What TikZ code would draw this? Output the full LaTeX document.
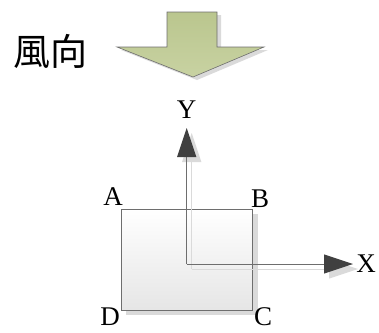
\documentclass[tikz,border=0pt]{standalone}
\usepackage{fontspec}
\setmainfont{Liberation Serif}
\newfontfamily\cjkfont{Noto Sans CJK TC}
\usetikzlibrary{arrows.meta}
\definecolor{windgreen}{HTML}{BAC68E}
\definecolor{windgreenlight}{HTML}{C8D2A2}
\definecolor{edgegray}{HTML}{6E6E6E}
\definecolor{headgray}{HTML}{404040}
\definecolor{shadowgray}{HTML}{DADADA}
\tikzset{
  lbl/.style={font=\fontsize{27}{27}\selectfont, inner sep=0pt, anchor=base},
  axisline/.style={draw=edgegray, line width=1pt, -{Triangle[length=29pt,width=19pt,fill=headgray,color=headgray]}},
  axisshadow/.style={draw=shadowgray, line width=1pt, -{Triangle[length=29pt,width=19pt,fill=shadowgray,color=shadowgray]}},
}
\begin{document}
\begin{tikzpicture}[x=1pt,y=-1pt]
\useasboundingbox (0,0) rectangle (379,332);
% wind label
\node[font=\cjkfont\fontsize{37}{37}\selectfont, inner sep=0pt] (wind) at (50,51) {風向};
% wind arrow shadow
\fill[shadowgray] (171,15) -- (221,15) -- (221,50) -- (268,50) -- (197,80) -- (121,50) -- (171,50) -- cycle;
% wind arrow
\shade[top color=windgreen, bottom color=windgreenlight, draw=edgegray, line width=0.6pt]
  (167,12) -- (217,12) -- (217,47) -- (264,47) -- (193,77) -- (117,47) -- (167,47) -- cycle;
% rectangle shadow
\fill[shadowgray] (126,214) rectangle (257.7,314.5);
\shade[top color=white, bottom color=black!10, draw=edgegray, line width=1pt]
  (121,209) rectangle (252.7,310.7);
% axes
\coordinate (O) at (186.7,264);
\coordinate (Ytip) at (186.7,128);
\coordinate (Xtip) at (353,264);
\coordinate (Os) at (191.7,269);
\coordinate (Ytips) at (191.7,133);
\coordinate (Xtips) at (358,269);
\draw[axisshadow] (Os) -- (Ytips);
\draw[axisshadow] (Os) -- (Xtips);
\draw[axisline] (O) -- (Ytip);
\draw[axisline] (O) -- (Xtip);
% labels
\node[lbl] (A) at (113,205) {A};
\node[lbl] (B) at (260,207) {B};
\node[lbl] (D) at (110,325) {D};
\node[lbl] (C) at (263,325.5) {C};
\node[lbl] (Y) at (186.5,118) {Y};
\node[lbl] (X) at (366,272) {X};
\end{tikzpicture}
\end{document}
